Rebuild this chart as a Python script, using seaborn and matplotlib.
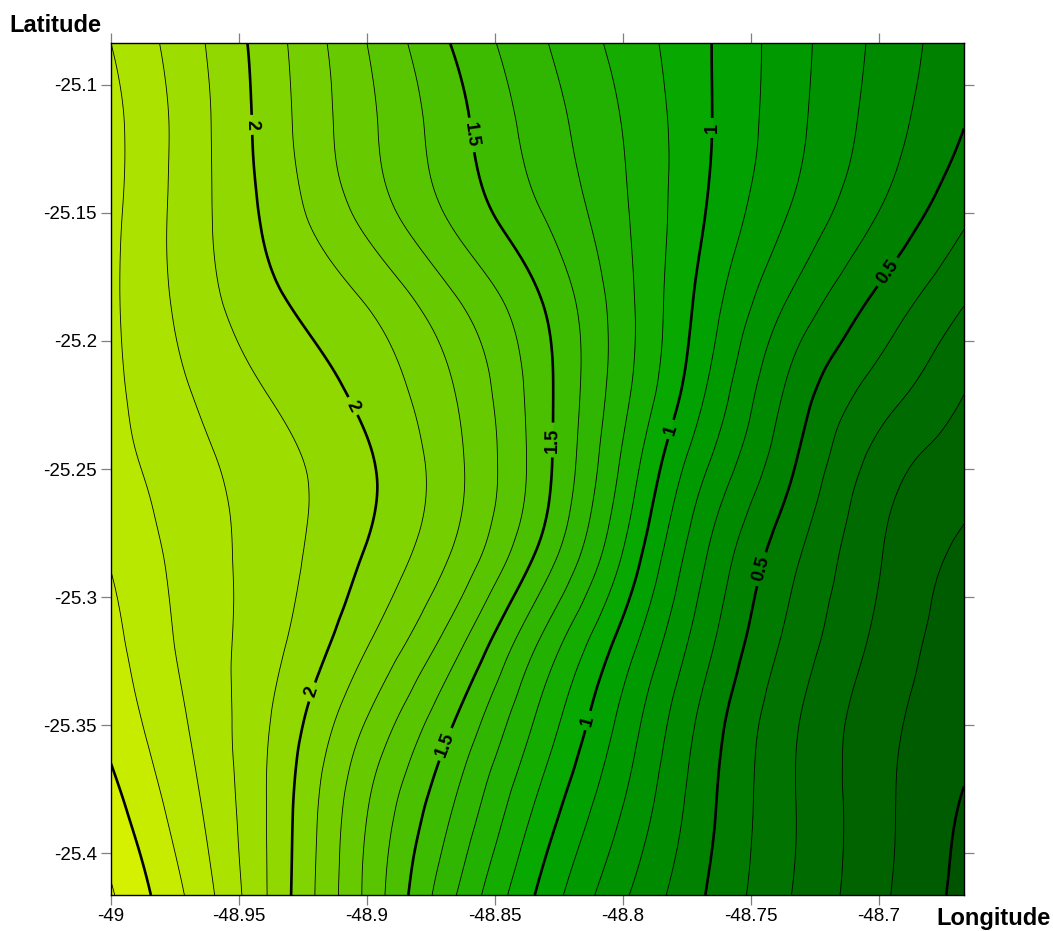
import numpy as np
import matplotlib
matplotlib.use("Agg")
import matplotlib.pyplot as plt
import matplotlib.tri as mtri
from matplotlib.colors import LinearSegmentedColormap, Normalize
import seaborn as sns

# ---------------- data ----------------
lon_min, lon_max = -49.0, -48.6668
lat_top, lat_bottom = -25.0836, -25.4164
n_lon, n_lat = 11, 11

# z values, one list per latitude row (top -> bottom), west -> east
row_00 = [2.30, 2.12, 1.915, 1.70, 1.495, 1.32, 1.165, 1.007, 0.837, 0.677, 0.53]
row_01 = [2.33, 2.136, 1.927, 1.724, 1.54, 1.36, 1.198, 1.009, 0.828, 0.656, 0.50]
row_02 = [2.325, 2.135, 1.951, 1.767, 1.583, 1.41, 1.216, 0.993, 0.787, 0.598, 0.42]
row_03 = [2.318, 2.148, 2.005, 1.89, 1.713, 1.51, 1.241, 0.95, 0.683, 0.479, 0.31]
row_04 = [2.323, 2.188, 2.074, 1.965, 1.802, 1.554, 1.236, 0.896, 0.573, 0.365, 0.21]
row_05 = [2.341, 2.229, 2.128, 2.015, 1.834, 1.558, 1.179, 0.796, 0.503, 0.256, 0.14]
row_06 = [2.39, 2.25, 2.132, 1.992, 1.794, 1.488, 1.096, 0.696, 0.421, 0.208, 0.08]
row_07 = [2.43, 2.26, 2.111, 1.912, 1.654, 1.308, 0.965, 0.626, 0.366, 0.178, 0.04]
row_08 = [2.47, 2.282, 2.066, 1.79, 1.503, 1.181, 0.867, 0.554, 0.313, 0.138, 0.025]
row_09 = [2.54, 2.316, 2.044, 1.704, 1.40, 1.081, 0.797, 0.523, 0.306, 0.131, -0.01]
row_10 = [2.61, 2.362, 2.04, 1.678, 1.317, 0.99, 0.718, 0.493, 0.296, 0.123, -0.03]

x_ticks = [-49, -48.95, -48.9, -48.85, -48.8, -48.75, -48.7]
x_tick_labels = ["-49", "-48.95", "-48.9", "-48.85", "-48.8", "-48.75", "-48.7"]
y_ticks = [-25.1, -25.15, -25.2, -25.25, -25.3, -25.35, -25.4]
y_tick_labels = ["-25.1", "-25.15", "-25.2", "-25.25", "-25.3", "-25.35", "-25.4"]

labelled_levels = [0.5, 1.0, 1.5, 2.0]
bold_unlabelled_levels = [0.0, 2.5]

# ---------------- style ----------------
sns.set_style("ticks")
plt.rcParams["font.family"] = ["Liberation Sans", "DejaVu Sans"]
plt.rcParams["axes.unicode_minus"] = False

W, H = 1053, 931
fig = plt.figure(figsize=(W / 100, H / 100), dpi=100)
ax = fig.add_axes([111 / W, (H - 895) / H, (964 - 111) / W, (895 - 43) / H])

# colour map: dark green -> green -> yellow
cmap = LinearSegmentedColormap.from_list(
    "greens_yellow",
    [(0.0, (0 / 255, 81 / 255, 0)),
     (1.1 / 2.8, (0, 165 / 255, 0)),
     (1.0, (232 / 255, 248 / 255, 0))])
norm = Normalize(vmin=-0.1, vmax=2.7)

# grid + triangulation
lons = np.linspace(lon_min, lon_max, n_lon)
lats = np.linspace(lat_top, lat_bottom, n_lat)
X, Y = np.meshgrid(lons, lats)
Z = np.array([row_00, row_01, row_02, row_03, row_04, row_05,
              row_06, row_07, row_08, row_09, row_10])
tris = []
for j in range(n_lat - 1):
    for i in range(n_lon - 1):
        k = j * n_lon + i
        tris.append([k, k + 1, k + n_lon + 1])
        tris.append([k, k + n_lon + 1, k + n_lon])
triang = mtri.Triangulation(X.ravel(), Y.ravel(), np.array(tris))
interp = mtri.CubicTriInterpolator(triang, Z.ravel(), kind="min_E")
refiner = mtri.UniformTriRefiner(triang)
tri_f, z_f = refiner.refine_field(Z.ravel(), triinterpolator=interp, subdiv=4)

levels = np.round(np.arange(-0.1, 2.71, 0.1), 2)
thin_levels = [l for l in levels if abs(l * 2 - round(l * 2)) > 1e-6]

ax.tricontourf(tri_f, z_f, levels=levels, cmap=cmap, norm=norm, extend="both")
ax.tricontour(tri_f, z_f, levels=thin_levels, colors="black", linewidths=0.6)
ax.tricontour(tri_f, z_f, levels=bold_unlabelled_levels, colors="black", linewidths=1.9)
cs = ax.tricontour(tri_f, z_f, levels=labelled_levels, colors="black", linewidths=1.9)

ax.set_xlim(lon_min, lon_max)
ax.set_ylim(lat_bottom, lat_top)

label_pts = [(-48.9457, -25.1156), (-48.9047, -25.2250), (-48.9215, -25.3371),
             (-48.8590, -25.1195), (-48.8273, -25.2387), (-48.8688, -25.3578),
             (-48.7648, -25.1168), (-48.7805, -25.2348), (-48.8148, -25.3480),
             (-48.6977, -25.1723), (-48.7445, -25.2895)]
texts = ax.clabel(cs, fmt="%g", fontsize=13, inline=True, inline_spacing=5,
                  manual=label_pts)
for t in texts:
    t.set_fontweight("bold")

ax.set_xticks(x_ticks)
ax.set_xticklabels(x_tick_labels)
ax.set_yticks(y_ticks)
ax.set_yticklabels(y_tick_labels)
ax.tick_params(direction="out", length=7.2, width=0.9, color="#808080",
               top=True, right=True, labeltop=False, labelright=False,
               labelsize=13.5, labelcolor="black")
ax.tick_params(axis="x", pad=2)
ax.tick_params(axis="y", pad=3)
for s in ax.spines.values():
    s.set_color("black")
    s.set_linewidth(1.0)

fig.text(55 / W, 1 - 25 / H, "Latitude", ha="center", va="center",
         fontsize=17, fontweight="bold", color="black")
fig.text(993 / W, 1 - 918 / H, "Longitude", ha="center", va="center",
         fontsize=17, fontweight="bold", color="black")

fig.savefig("out.png", dpi=100)
